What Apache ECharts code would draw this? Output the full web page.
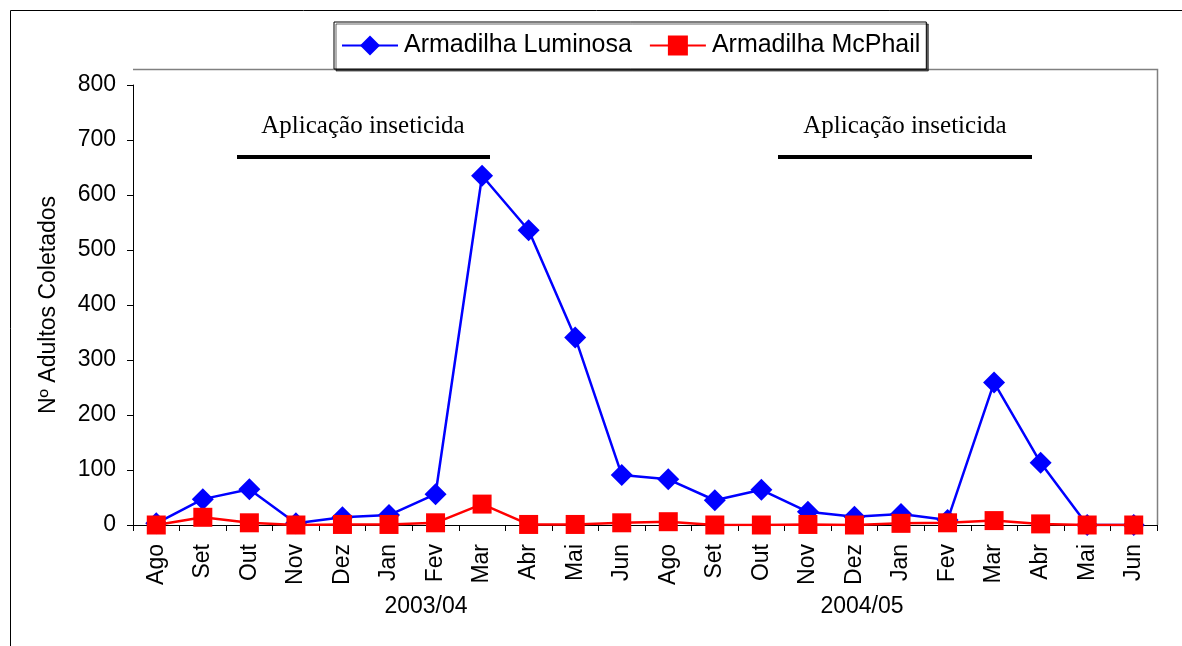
<!DOCTYPE html>
<html>
<head>
<meta charset="utf-8">
<script src="https://cdn.jsdelivr.net/npm/echarts@6/dist/echarts.min.js"></script>
<style>
html,body{margin:0;padding:0;background:#fff;}
#c{width:1182px;height:646px;}
</style>
</head>
<body>
<div id="c"></div>
<script>
const months = ["Ago","Set","Out","Nov","Dez","Jan","Fev","Mar","Abr","Mai","Jun","Ago","Set","Out","Nov","Dez","Jan","Fev","Mar","Abr","Mai","Jun"];
const luminosa = [3,47,65,3,14,18,56,635,536,341,91,83,45,64,24,15,20,9,259,113,0,0];
const mcphail = [0,14,4,0,1,1,4,38,1,1,4,6,0,0,1,0,3,4,8,2,0,0];
const yTicks = {min:0, max:800, interval:100};
const seasons = ["2003/04","2004/05"];
const annotationText = "Aplicação inseticida";

const chart = echarts.init(document.getElementById('c'), null, {renderer:'canvas'});
const font = 'Liberation Sans, Arial, sans-serif';
const option = {
  animation:false,
  backgroundColor:'#ffffff',
  grid:{left:133, right:25, top:85, bottom:121, containLabel:false},
  legend:{
    top:22, left:334,
    padding:[11,6,11,7],
    itemGap:17,
    itemWidth:56, itemHeight:25,
    borderColor:'#000', borderWidth:1,
    backgroundColor:'#fff',
    shadowColor:'rgba(0,0,0,0.6)', shadowOffsetX:2, shadowOffsetY:2, shadowBlur:0,
    textStyle:{fontFamily:font, fontSize:25, color:'#000', padding:[0,0,0,1]},
    data:['Armadilha Luminosa','Armadilha McPhail']
  },
  xAxis:{
    type:'category', data:months, boundaryGap:true,
    axisLine:{lineStyle:{color:'#000', width:1}},
    axisTick:{show:true, length:6, lineStyle:{color:'#000'}},
    axisLabel:{rotate:90, fontFamily:font, fontSize:23, color:'#000', margin:19, interval:0},
    splitLine:{show:false}
  },
  yAxis:{
    type:'value', min:yTicks.min, max:yTicks.max, interval:yTicks.interval,
    name:'Nº Adultos Coletados', nameLocation:'middle', nameGap:73, nameRotate:90,
    nameTextStyle:{fontFamily:font, fontSize:23, color:'#000'},
    axisLine:{show:true, lineStyle:{color:'#000', width:1}},
    axisTick:{show:true, length:6, lineStyle:{color:'#000'}},
    axisLabel:{fontFamily:font, fontSize:23, color:'#000', margin:17},
    splitLine:{show:false}
  },
  series:[
    {name:'Armadilha Luminosa', type:'line', data:luminosa, symbol:'diamond', symbolSize:22,
     itemStyle:{color:'#0000ff'}, lineStyle:{color:'#0000ff', width:2.5}, z:2},
    {name:'Armadilha McPhail', type:'line', data:mcphail, symbol:'rect', symbolSize:19,
     itemStyle:{color:'#ff0000'}, lineStyle:{color:'#ff0000', width:2.5}, z:3}
  ],
  graphic:[
    {type:'line', shape:{x1:10.5,y1:10.5,x2:1182,y2:10.5}, style:{stroke:'#000', lineWidth:1}, silent:true},
    {type:'line', shape:{x1:10.5,y1:10.5,x2:10.5,y2:646}, style:{stroke:'#000', lineWidth:1}, silent:true},
    {type:'polyline', shape:{points:[[133,69.5],[1157.5,69.5],[1157.5,525]]}, style:{stroke:'#808080', lineWidth:1.5, fill:null}, silent:true, z:-1},
    {type:'rect', shape:{x:237,y:155,width:253,height:4}, style:{fill:'#000'}, silent:true},
    {type:'rect', shape:{x:778,y:155,width:254,height:4}, style:{fill:'#000'}, silent:true},
    {type:'text', x:363, y:126, style:{text:annotationText, font:'25px "Liberation Serif", "Times New Roman", serif', fill:'#000', textAlign:'center', textVerticalAlign:'middle'}, silent:true},
    {type:'text', x:905, y:126, style:{text:annotationText, font:'25px "Liberation Serif", "Times New Roman", serif', fill:'#000', textAlign:'center', textVerticalAlign:'middle'}, silent:true},
    {type:'text', x:426, y:607, style:{text:seasons[0], font:'23px "Liberation Sans", Arial, sans-serif', fill:'#000', textAlign:'center', textVerticalAlign:'middle'}, silent:true},
    {type:'text', x:862, y:607, style:{text:seasons[1], font:'23px "Liberation Sans", Arial, sans-serif', fill:'#000', textAlign:'center', textVerticalAlign:'middle'}, silent:true}
  ]
};
chart.setOption(option);
</script>
</body>
</html>
